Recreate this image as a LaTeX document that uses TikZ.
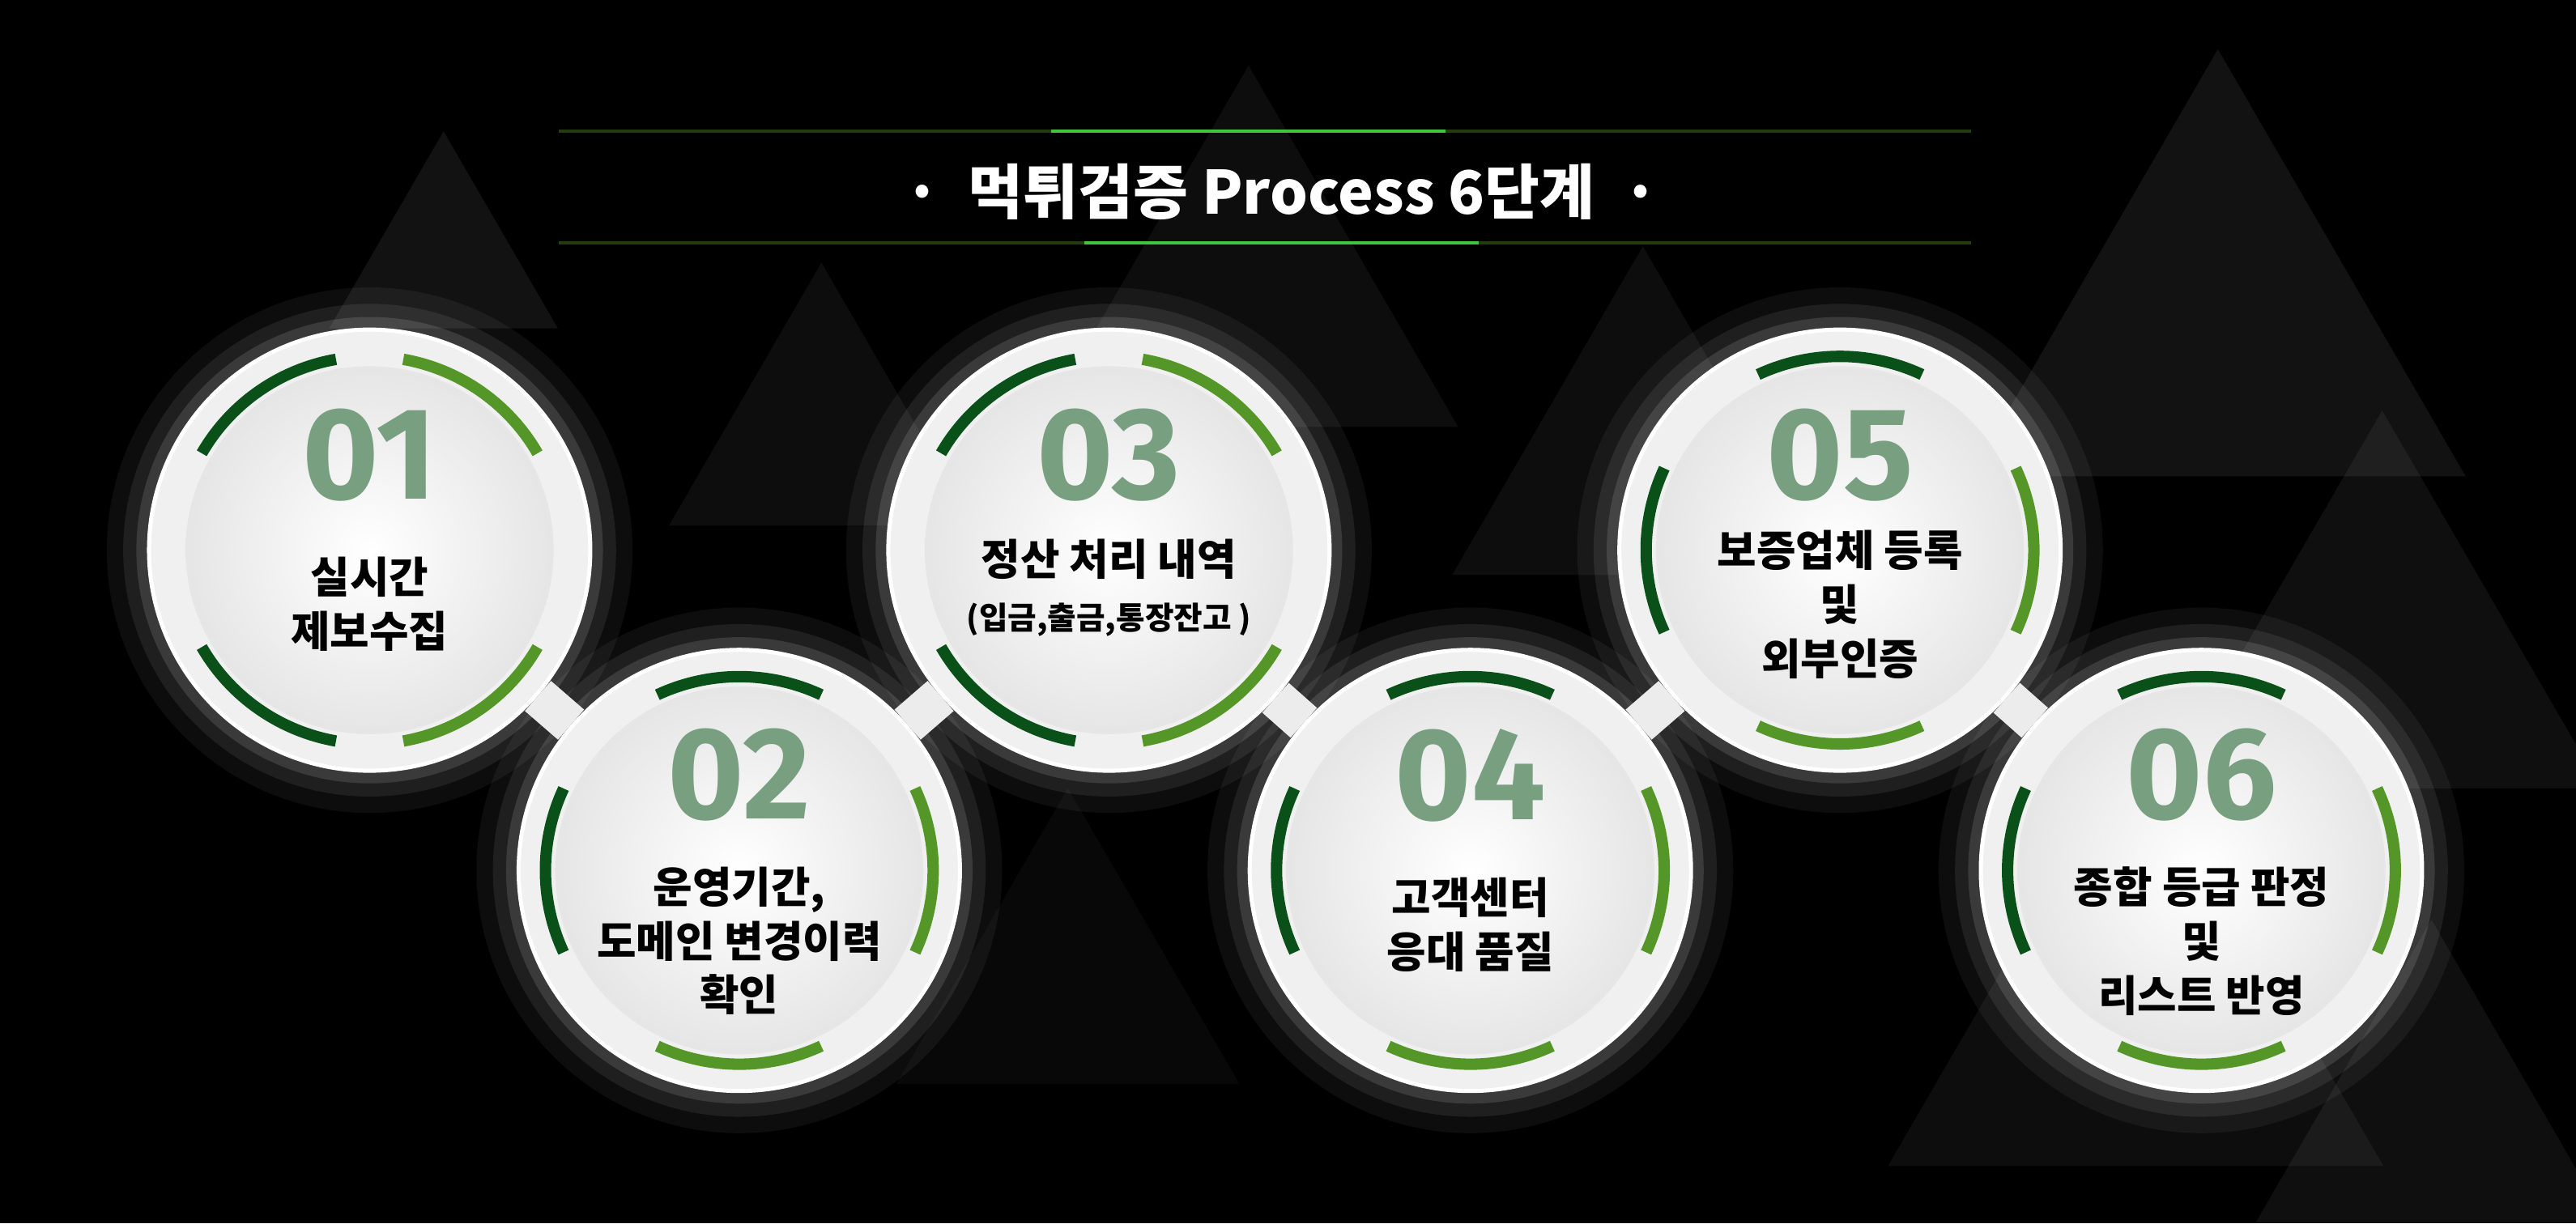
\documentclass[tikz,border=0pt]{standalone}
\usepackage{fontspec}
\setmainfont{Noto Sans CJK KR}
\newfontfamily\numfont{Fira Sans}
\usetikzlibrary{positioning}
\definecolor{darkgrn}{RGB}{10,80,25}
\definecolor{litgrn}{RGB}{85,150,40}
\definecolor{numgrn}{RGB}{120,160,128}
\tikzset{
  disk/.style={circle,minimum size=155pt,inner sep=0pt,fill=gray!12,draw=white,line width=1.5pt},
  bridge/.style={white!85!gray,line width=14pt},
  arcd/.style={darkgrn,line width=4pt,line cap=butt},
  arcl/.style={litgrn,line width=4pt,line cap=butt},
  numtext/.style={numgrn,font=\numfont\bfseries\fontsize{46}{50}\selectfont},
  steptext/.style={align=center,font=\bfseries\fontsize{15}{19}\selectfont},
}
\begin{document}
\begin{tikzpicture}[x=0.2029mm,y=-0.2029mm]
\useasboundingbox (0,0) rectangle (1568,745);
\fill[black] (0,0) rectangle (1568,745);
%triangles
\foreach \x/\y/\s/\o in {270/80/120/0.07,500/160/160/0.05,760/40/220/0.05,1000/150/200/0.05,1350/30/260/0.07,1450/250/230/0.06,1300/450/260/0.05,1480/560/200/0.06,650/480/180/0.03}
  \fill[white,opacity=\o] (\x,\y) -- ++(\s*0.58,\s) -- ++(-\s*1.16,0) -- cycle;
%title
\fill[litgrn,opacity=0.4] (340,79) rectangle (1200,81);
\fill[litgrn,opacity=0.4] (340,147) rectangle (1200,149);
\fill[green!70!white,opacity=0.7] (640,79) rectangle (880,81);
\fill[green!70!white,opacity=0.7] (660,147) rectangle (900,149);
\node[white,font=\bfseries\fontsize{21}{24}\selectfont] (title) at (780,117) {·\ \ 먹튀검증 Process 6단계\ \ ·};
%glow
\foreach \x/\y in {225/335,450/530,675/335,895/530,1120/335,1340/530}{
  \foreach \r/\o in {160/0.05,150/0.08,142/0.12}
    \fill[white,opacity=\o] (\x,\y) circle (\r);
}
%circles
\node[disk] (c1) at (225,335) {};
\node[disk] (c2) at (450,530) {};
\node[disk] (c3) at (675,335) {};
\node[disk] (c4) at (895,530) {};
\node[disk] (c5) at (1120,335) {};
\node[disk] (c6) at (1340,530) {};
\foreach \a/\b in {c1/c2,c2/c3,c3/c4,c4/c5,c5/c6}
  \draw[bridge] (\a) -- (\b);
\foreach \c in {c1,c2,c3,c4,c5,c6}{
  \fill[gray!12] (\c) circle (133);
  \shade[inner color=white,outer color=gray!20] (\c) circle (112);
}
%arcs, diagonal
\foreach \c in {c1,c3}{
  \draw[arcd] ([shift={(150:118)}]\c.center) arc[start angle=150,end angle=100,radius=118];
  \draw[arcl] ([shift={(80:118)}]\c.center) arc[start angle=80,end angle=30,radius=118];
  \draw[arcd] ([shift={(210:118)}]\c.center) arc[start angle=210,end angle=260,radius=118];
  \draw[arcl] ([shift={(280:118)}]\c.center) arc[start angle=280,end angle=330,radius=118];
}
%arcs, axis
\foreach \c in {c2,c4,c5,c6}{
  \draw[arcl] ([shift={(115:118)}]\c.center) arc[start angle=115,end angle=65,radius=118];
  \draw[arcd] ([shift={(155:118)}]\c.center) arc[start angle=155,end angle=205,radius=118];
  \draw[arcl] ([shift={(25:118)}]\c.center) arc[start angle=25,end angle=-25,radius=118];
  \draw[arcd] ([shift={(245:118)}]\c.center) arc[start angle=245,end angle=295,radius=118];
}
%labels
\node[numtext] (n1) at ([shift={(0,-58)}]c1.center) {01};
\node[numtext] (n2) at ([shift={(0,-58)}]c2.center) {02};
\node[numtext] (n3) at ([shift={(0,-58)}]c3.center) {03};
\node[numtext] (n4) at ([shift={(0,-58)}]c4.center) {04};
\node[numtext] (n5) at ([shift={(0,-58)}]c5.center) {05};
\node[numtext] (n6) at ([shift={(0,-58)}]c6.center) {06};
\node[steptext] (t1) at ([shift={(0,33)}]c1.center) {실시간\\제보수집};
\node[steptext] (t2) at ([shift={(0,43)}]c2.center) {운영기간,\\도메인 변경이력\\확인};
\node[steptext] (t3) at ([shift={(0,23)}]c3.center) {정산 처리 내역\\{\fontsize{11}{14}\selectfont(입금,출금,통장잔고 )}};
\node[steptext] (t4) at ([shift={(0,33)}]c4.center) {고객센터\\응대 품질};
\node[steptext] (t5) at ([shift={(0,33)}]c5.center) {보증업체 등록\\및\\외부인증};
\node[steptext] (t6) at ([shift={(0,43)}]c6.center) {종합 등급 판정\\및\\리스트 반영};
\end{tikzpicture}
\end{document}
